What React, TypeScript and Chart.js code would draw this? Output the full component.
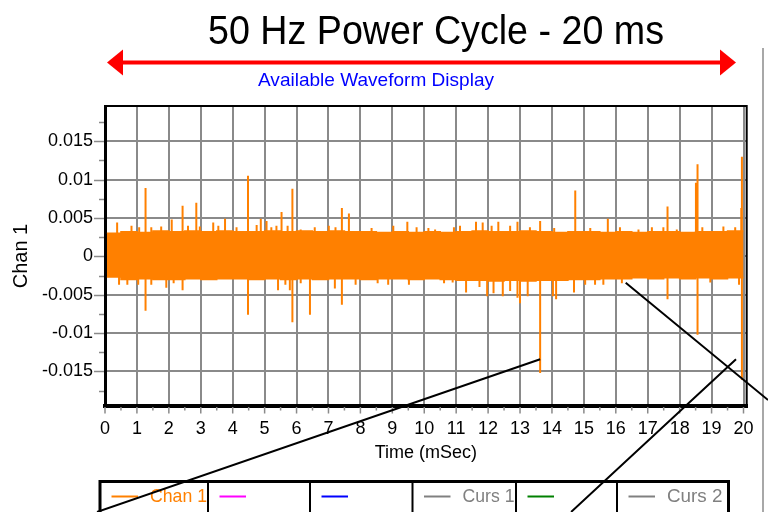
import React, { useEffect, useRef } from 'react';
import { Chart, registerables } from 'chart.js';

Chart.register(...registerables);

const FONT = '"Liberation Sans", Arial, Helvetica, sans-serif';
const ORANGE = '#ff8000';

// ---- text ----
const titleText = '50 Hz Power Cycle - 20 ms';
const spanText = 'Available Waveform Display';
const xAxisTitle = 'Time (mSec)';
const yAxisTitle = 'Chan 1';

// ---- axes ----
const xTickValues = [0, 1, 2, 3, 4, 5, 6, 7, 8, 9, 10, 11, 12, 13, 14, 15, 16, 17, 18, 19, 20];
const xTickLabels = ['0', '1', '2', '3', '4', '5', '6', '7', '8', '9', '10', '11', '12', '13', '14', '15', '16', '17', '18', '19', '20'];
const yTickValues = [-0.015, -0.01, -0.005, 0, 0.005, 0.01, 0.015];
const yTickLabels = ['-0.015', '-0.01', '-0.005', '0', '0.005', '0.01', '0.015'];
const xMinorTicks = [0.5, 1.5, 2.5, 3.5, 4.5, 5.5, 6.5, 7.5, 8.5, 9.5, 10.5, 11.5, 12.5, 13.5, 14.5, 15.5, 16.5, 17.5, 18.5, 19.5];
const yMinorTicks = [-0.0175, -0.0125, -0.0075, -0.0025, 0.0025, 0.0075, 0.0125, 0.0175];
const xRange = [0, 20.1];
const yRange = [-0.0195, 0.0196];

// ---- Chan 1 noise band envelope (ms, V) ----
const envTimes = [0.06, 0.5, 1, 1.5, 2, 2.5, 3, 3.5, 4, 4.5, 5, 5.5, 6, 6.5, 7, 7.5, 8, 8.5, 9, 9.5, 10,
  10.5, 11, 11.5, 12, 12.5, 13, 13.5, 14, 14.5, 15, 15.5, 16, 16.5, 17, 17.5, 18, 18.5, 19, 19.5, 20.0];
const envUpper = [0.0030, 0.0032, 0.0031, 0.0033, 0.0032, 0.0033, 0.0032, 0.0033, 0.0032, 0.0032, 0.0033,
  0.0032, 0.0033, 0.0032, 0.0033, 0.0032, 0.0032, 0.0031, 0.0032, 0.0031, 0.0032,
  0.0031, 0.0032, 0.0033, 0.0032, 0.0032, 0.0033, 0.0032, 0.0031, 0.0032, 0.0032,
  0.0031, 0.0032, 0.0031, 0.0032, 0.0032, 0.0031, 0.0032, 0.0032, 0.0033, 0.0033];
const envLower = [-0.0027, -0.0030, -0.0029, -0.0030, -0.0030, -0.0029, -0.0030, -0.0029, -0.0029, -0.0030, -0.0029,
  -0.0030, -0.0029, -0.0030, -0.0029, -0.0029, -0.0030, -0.0029, -0.0029, -0.0030, -0.0029,
  -0.0030, -0.0031, -0.0031, -0.0032, -0.0031, -0.0032, -0.0031, -0.0031, -0.0030, -0.0030,
  -0.0029, -0.0029, -0.0028, -0.0029, -0.0028, -0.0029, -0.0028, -0.0029, -0.0028, -0.0028];

// ---- Chan 1 short excursions just outside the band (ms, V) ----
const jagTimes = [0.38, 0.83, 1.07, 1.45, 1.76, 2.09, 2.6, 2.97, 3.39, 3.55, 3.76, 4.12, 4.75, 4.88, 5.06, 5.21,
  5.37, 5.72, 6.13, 6.57, 7.01, 7.22, 8.35, 9.03, 9.47, 9.76, 10.13, 10.34, 10.93, 11.12, 11.62, 11.83,
  12.11, 12.32, 12.69, 12.92, 13.31, 13.63, 14.07, 15.2, 15.75, 16.13, 16.71, 17.13, 17.49, 17.91, 18.71,
  19.37, 19.74,
  0.44, 0.7, 1.04, 1.45, 1.92, 2.15, 5.42, 5.65, 5.79, 6.13, 7.2, 7.85, 8.54, 8.87, 9.52, 10.62, 10.89,
  11.31, 11.73, 11.97, 12.17, 12.46, 12.69, 12.92, 13.0, 13.24, 14.03, 14.13, 14.69, 15.04, 15.35, 15.61,
  16.19, 18.96, 19.86];
const jagValues = [0.0044, 0.0040, 0.0038, 0.0038, 0.0039, 0.0048, 0.0040, 0.0039, 0.0044, 0.0040, 0.0049, 0.0038,
  0.0041, 0.0049, 0.0046, 0.0038, 0.0040, 0.0040, 0.0035, 0.0038, 0.0040, 0.0038, 0.0037, 0.0040, 0.0045,
  0.0038, 0.0037, 0.0035, 0.0038, 0.0040, 0.0045, 0.0044, 0.0040, 0.0045, 0.0040, 0.0045, 0.0038, 0.0046,
  0.0037, 0.0037, 0.0049, 0.0038, 0.0035, 0.0038, 0.0038, 0.0035, 0.0038, 0.0039, 0.0038,
  -0.0037, -0.0037, -0.0037, -0.0037, -0.0041, -0.0035, -0.0044, -0.0037, -0.0044, -0.0035, -0.0042,
  -0.0037, -0.0035, -0.0037, -0.0037, -0.0035, -0.0034, -0.0047, -0.0040, -0.0052, -0.0048, -0.0052,
  -0.0045, -0.0054, -0.0061, -0.0052, -0.0052, -0.0056, -0.0047, -0.0037, -0.0037, -0.0037, -0.0035,
  -0.0034, -0.0037];

// ---- Chan 1 transients (ms, V) ----
const spikeTimes = [1.27, 1.27, 2.43, 2.43, 2.86, 4.48, 4.48, 5.53, 5.87, 5.87, 6.42, 7.42, 7.42, 7.64,
  13.63, 14.73, 17.62, 17.62, 18.51, 18.56, 18.56, 19.93, 19.95, 19.95];
const spikeValues = [0.0089, -0.0071, 0.0066, -0.0044, 0.0070, 0.0105, -0.0076, 0.0058, 0.0088, -0.0086,
  -0.0076, 0.0063, -0.0063, 0.0056, -0.0152, 0.0086, 0.0065, -0.0056, 0.0096, 0.0120, -0.0102, 0.0063,
  0.0130, -0.0161];

// ---- zoom callout lines, in axis units [x1, y1, x2, y2] ----
const calloutLines = [
  [13.63, -0.01341, -0.25, -0.03331],
  [19.765, -0.01341, 14.6, -0.03331],
  [16.31, -0.00343, 20.77, -0.01872],
];

// ---- trace table under the plot ----
const legendLabels = ['Chan 1', '', '', 'Curs 1', '', 'Curs 2'];
const legendLineColors = [ORANGE, '#ff00ff', '#0000ff', '#808080', '#008000', '#808080'];
const legendTextColors = [ORANGE, '#ff00ff', '#0000ff', '#808080', '#008000', '#808080'];

function drawFitText(ctx: CanvasRenderingContext2D, text: string, x: number, baseline: number,
  size: number, width: number, color: string, align: 'center' | 'left') {
  ctx.save();
  ctx.font = `${size}px ${FONT}`;
  const w = ctx.measureText(text).width || 1;
  const sx = width / w;
  ctx.translate(x, baseline);
  ctx.scale(sx, 1);
  ctx.fillStyle = color;
  ctx.textAlign = align;
  ctx.textBaseline = 'alphabetic';
  ctx.fillText(text, 0, 0);
  ctx.restore();
}

const decorPlugin = {
  id: 'scopeDecor',
  afterDraw(chart: any) {
    const { ctx, chartArea: ca } = chart;
    const xs = chart.scales.x;
    const ys = chart.scales.y;
    ctx.save();

    // top and right edges of the plot frame
    ctx.strokeStyle = '#000';
    ctx.lineWidth = 2;
    ctx.beginPath();
    ctx.moveTo(ca.left, ca.top);
    ctx.lineTo(ca.right, ca.top);
    ctx.lineTo(ca.right, ca.bottom);
    ctx.stroke();

    // outside tick marks
    ctx.strokeStyle = '#8a8a8a';
    ctx.lineWidth = 1.5;
    ctx.beginPath();
    yTickValues.forEach((v) => {
      const py = Math.round(ys.getPixelForValue(v)) + 0.5;
      ctx.moveTo(ca.left - 11, py);
      ctx.lineTo(ca.left - 1, py);
    });
    yMinorTicks.forEach((v) => {
      const py = Math.round(ys.getPixelForValue(v)) + 0.5;
      ctx.moveTo(ca.left - 6, py);
      ctx.lineTo(ca.left - 1, py);
    });
    xTickValues.forEach((v) => {
      const px = xs.getPixelForValue(v);
      ctx.moveTo(px, ca.bottom + 1);
      ctx.lineTo(px, ca.bottom + 7.5);
    });
    xMinorTicks.forEach((v) => {
      const px = xs.getPixelForValue(v);
      ctx.moveTo(px, ca.bottom + 1);
      ctx.lineTo(px, ca.bottom + 4.5);
    });
    ctx.stroke();

    // heading
    drawFitText(ctx, titleText, 436, 44, 40, 456, '#000', 'center');

    // red span arrow
    const ax1 = 107, ax2 = 736, ay = 62.5;
    ctx.strokeStyle = '#ff0000';
    ctx.fillStyle = '#ff0000';
    ctx.lineWidth = 4;
    ctx.beginPath();
    ctx.moveTo(ax1 + 12, ay);
    ctx.lineTo(ax2 - 12, ay);
    ctx.stroke();
    ctx.beginPath();
    ctx.moveTo(ax1, ay);
    ctx.lineTo(ax1 + 16, ay - 13);
    ctx.lineTo(ax1 + 16, ay + 13);
    ctx.closePath();
    ctx.fill();
    ctx.beginPath();
    ctx.moveTo(ax2, ay);
    ctx.lineTo(ax2 - 16, ay - 13);
    ctx.lineTo(ax2 - 16, ay + 13);
    ctx.closePath();
    ctx.fill();

    drawFitText(ctx, spanText, 376, 86, 19, 236, '#0000ff', 'center');

    // grey separator on the right
    ctx.strokeStyle = '#a8a8a8';
    ctx.lineWidth = 2;
    ctx.beginPath();
    ctx.moveTo(763, 48);
    ctx.lineTo(763, 512);
    ctx.stroke();

    // trace table
    const cells = [100, 208, 310, 412.5, 516, 617, 728.5];
    const boxTop = 481.5;
    ctx.strokeStyle = '#000';
    ctx.lineWidth = 3;
    ctx.beginPath();
    ctx.moveTo(cells[0], 520);
    ctx.lineTo(cells[0], boxTop);
    ctx.lineTo(cells[6], boxTop);
    ctx.lineTo(cells[6], 520);
    ctx.stroke();
    ctx.lineWidth = 2;
    ctx.beginPath();
    for (let i = 1; i < 6; i++) {
      ctx.moveTo(cells[i], boxTop);
      ctx.lineTo(cells[i], 520);
    }
    ctx.stroke();
    const textWidths = [57, 0, 0, 52, 0, 55.5];
    legendLabels.forEach((label, i) => {
      const x0 = cells[i];
      ctx.strokeStyle = legendLineColors[i];
      ctx.lineWidth = 2;
      ctx.beginPath();
      ctx.moveTo(x0 + 11.5, 496.5);
      ctx.lineTo(x0 + 38, 496.5);
      ctx.stroke();
      if (label) {
        drawFitText(ctx, label, x0 + 50, 502, 18.5, textWidths[i], legendTextColors[i], 'left');
      }
    });

    // zoom callout lines
    ctx.strokeStyle = '#000';
    ctx.lineWidth = 2;
    ctx.beginPath();
    calloutLines.forEach(([x1, y1, x2, y2]) => {
      ctx.moveTo(xs.getPixelForValue(x1), ys.getPixelForValue(y1));
      ctx.lineTo(xs.getPixelForValue(x2), ys.getPixelForValue(y2));
    });
    ctx.stroke();

    ctx.restore();
  },
};

export default function App() {
  const canvasRef = useRef<HTMLCanvasElement | null>(null);

  useEffect(() => {
    if (!canvasRef.current) return;

    const upper = envTimes.map((t, i) => ({ x: t, y: envUpper[i] }));
    const lower = envTimes.map((t, i) => ({ x: t, y: envLower[i] }));
    const peaks: { x: number; y: number | null }[] = [];
    const pushStroke = (t: number, v: number) => {
      peaks.push({ x: t, y: 0 }, { x: t, y: v }, { x: t, y: null });
    };
    jagTimes.forEach((t, i) => pushStroke(t, jagValues[i]));
    spikeTimes.forEach((t, i) => pushStroke(t, spikeValues[i]));

    const chart = new Chart(canvasRef.current, {
      type: 'line',
      data: {
        datasets: [
          {
            label: 'Chan 1 band top',
            data: upper,
            borderColor: ORANGE,
            backgroundColor: ORANGE,
            borderWidth: 1.5,
            pointRadius: 0,
            stepped: true,
            fill: '+1',
          },
          {
            label: 'Chan 1 band bottom',
            data: lower,
            borderColor: ORANGE,
            backgroundColor: ORANGE,
            borderWidth: 1.5,
            pointRadius: 0,
            stepped: true,
            fill: false,
          },
          {
            label: 'Chan 1',
            data: peaks as any,
            borderColor: ORANGE,
            borderWidth: 2,
            pointRadius: 0,
            spanGaps: false,
            fill: false,
          },
        ],
      },
      options: {
        responsive: false,
        maintainAspectRatio: false,
        animation: false,
        events: [],
        layout: { padding: { left: 0, right: 21.3, top: 106, bottom: 48 } },
        plugins: {
          legend: { display: false },
          title: { display: false },
          tooltip: { enabled: false },
        },
        elements: { line: { tension: 0 } },
        scales: {
          x: {
            type: 'linear',
            min: xRange[0],
            max: xRange[1],
            afterFit: (scale: any) => { scale.height = 58; },
            afterBuildTicks: (scale: any) => { scale.ticks = xTickValues.map((v) => ({ value: v })); },
            ticks: {
              autoSkip: false,
              maxRotation: 0,
              padding: 12,
              color: '#000',
              font: { family: FONT, size: 18 },
              callback: (_v: any, i: number) => xTickLabels[i],
            },
            grid: { color: '#8a8a8a', lineWidth: 2, drawTicks: false },
            border: { display: true, color: '#000', width: 4 },
            title: {
              display: true,
              text: xAxisTitle,
              color: '#000',
              font: { family: FONT, size: 18 },
              padding: { top: 0, bottom: 0 },
            },
          },
          y: {
            type: 'linear',
            min: yRange[0],
            max: yRange[1],
            afterFit: (scale: any) => { scale.width = 105; },
            afterBuildTicks: (scale: any) => { scale.ticks = yTickValues.map((v) => ({ value: v })); },
            ticks: {
              padding: 12,
              color: '#000',
              font: { family: FONT, size: 18 },
              callback: (_v: any, i: number) => yTickLabels[i],
            },
            grid: { color: '#8a8a8a', lineWidth: 2, drawTicks: false },
            border: { display: true, color: '#000', width: 3 },
            title: {
              display: true,
              text: yAxisTitle,
              color: '#000',
              font: { family: FONT, size: 20 },
              padding: { top: 9, bottom: 0 },
            },
          },
        },
      },
      plugins: [decorPlugin],
    });

    return () => chart.destroy();
  }, []);

  return (
    <div style={{ position: 'fixed', left: 0, top: 0, width: 768, height: 512, background: '#fff' }}>
      <canvas ref={canvasRef} width={768} height={512} style={{ display: 'block' }} />
    </div>
  );
}
